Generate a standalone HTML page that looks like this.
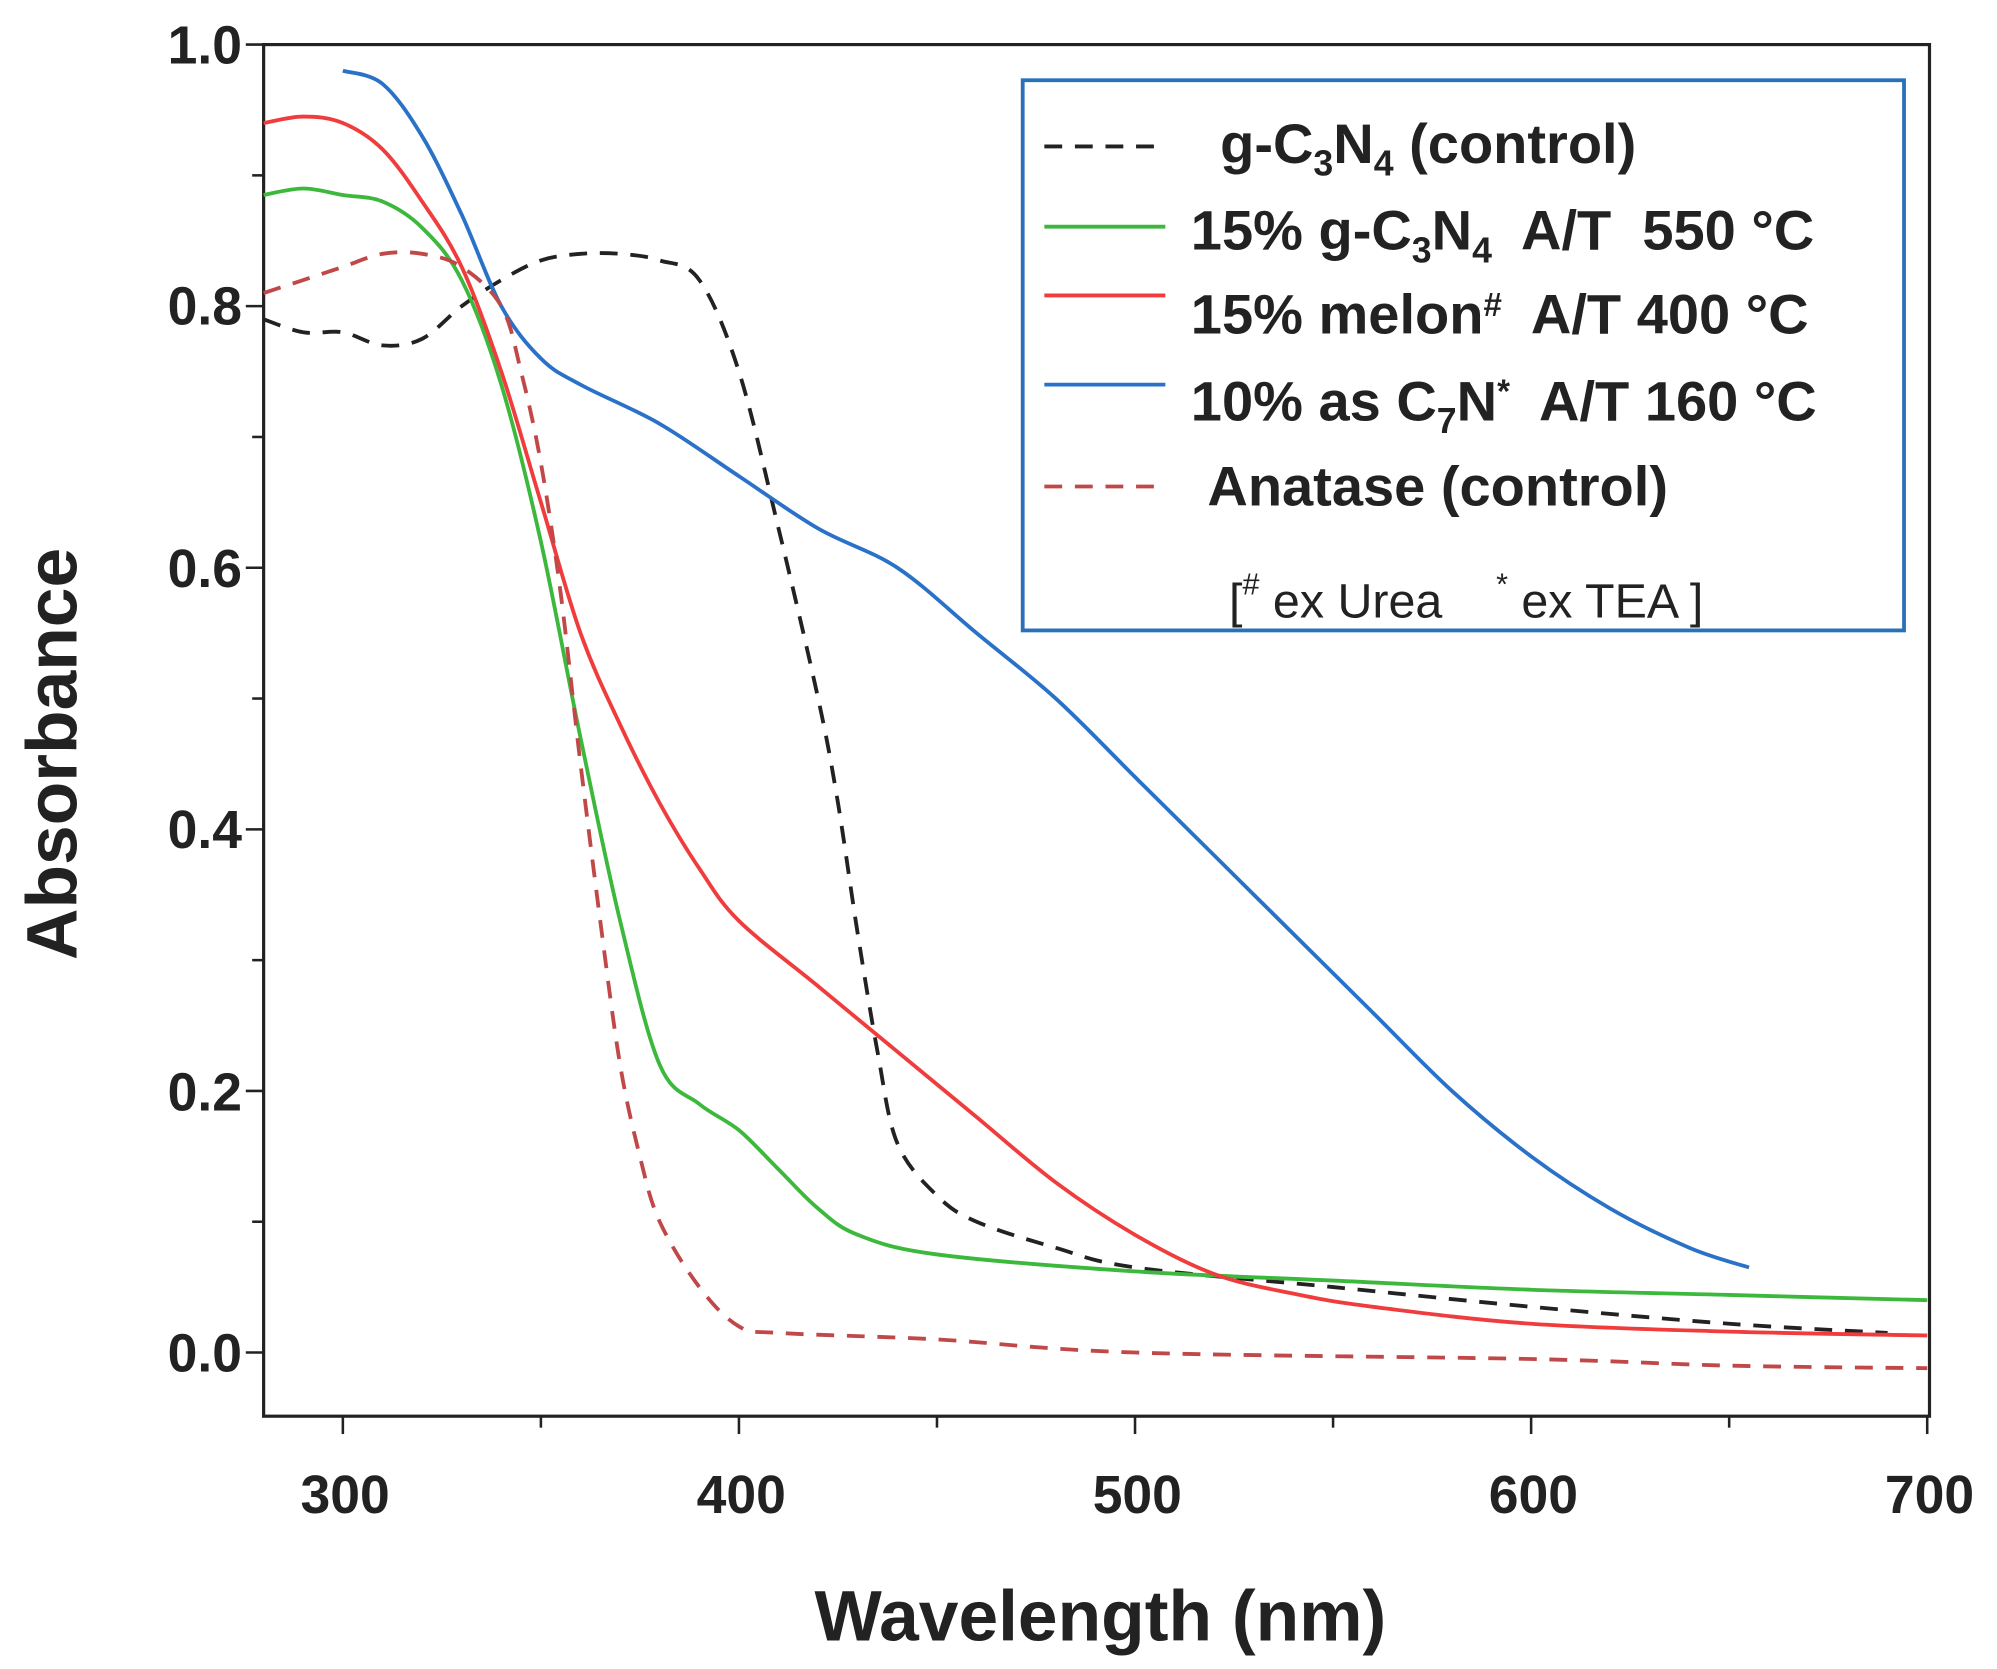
<!DOCTYPE html>
<html><head><meta charset="utf-8"><style>
html,body{margin:0;padding:0;background:#fff}
svg{display:block}
text{font-family:"Liberation Sans",sans-serif}
</style></head><body>
<svg id="s" width="1997" height="1669" viewBox="0 0 1568 1310.5" preserveAspectRatio="none">
<rect x="207" y="35" width="1308" height="1077" fill="none" stroke="#222" stroke-width="2.5"/>
<g id="ticks" stroke="#222" stroke-width="2"></g>
<g font-size="42" font-weight="bold" fill="#222" text-anchor="middle">
<text x="271" y="1188">300</text><text x="582" y="1188">400</text><text x="893" y="1188">500</text><text x="1204" y="1188">600</text><text x="1515" y="1188">700</text>
</g>
<g font-size="42" font-weight="bold" fill="#222" text-anchor="end">
<text x="190" y="1077">0.0</text><text x="190" y="872">0.2</text><text x="190" y="666">0.4</text><text x="190" y="461">0.6</text><text x="190" y="255">0.8</text><text x="190" y="50">1.0</text>
</g>
<text x="864" y="1288" font-size="56" font-weight="bold" fill="#222" text-anchor="middle">Wavelength (nm)</text>
<text transform="translate(60,592) rotate(-90)" font-size="56" font-weight="bold" fill="#222" text-anchor="middle">Absorbance</text>
<g id="curves" fill="none" stroke-width="3"></g>
<rect x="803" y="63" width="692" height="432" fill="#fff" stroke="#2a72b8" stroke-width="3"/>
<line x1="820" y1="115" x2="915" y2="115" stroke="#222" stroke-width="3" stroke-dasharray="14,10"/>
<line x1="820" y1="178" x2="915" y2="178" stroke="#3cb83c" stroke-width="3"/>
<line x1="820" y1="232" x2="915" y2="232" stroke="#f03c3c" stroke-width="3"/>
<line x1="820" y1="302" x2="915" y2="302" stroke="#2a72c8" stroke-width="3"/>
<line x1="820" y1="382" x2="915" y2="382" stroke="#c04848" stroke-width="3" stroke-dasharray="14,10"/>
<g font-size="44" font-weight="bold" fill="#222">
<text x="958" y="128">g-C<tspan font-size="28" dy="10">3</tspan><tspan dy="-10">N</tspan><tspan font-size="28" dy="10">4</tspan><tspan dy="-10"> (control)</tspan></text>
<text x="935" y="196" xml:space="preserve">15% g-C<tspan font-size="28" dy="10">3</tspan><tspan dy="-10">N</tspan><tspan font-size="28" dy="10">4</tspan><tspan dy="-10">  A/T  550 °C</tspan></text>
<text x="935" y="262" xml:space="preserve">15% melon<tspan font-size="26" dy="-14">#</tspan><tspan dy="14">  A/T 400 °C</tspan></text>
<text x="935" y="330" xml:space="preserve">10% as C<tspan font-size="28" dy="10">7</tspan><tspan dy="-10">N</tspan><tspan font-size="26" dy="-14">*</tspan><tspan dy="14">  A/T 160 °C</tspan></text>
<text x="948" y="397">Anatase (control)</text>
</g>
<text x="965" y="485" font-size="38" fill="#222" xml:space="preserve">[<tspan font-size="24" dy="-18">#</tspan><tspan dy="18"> ex Urea    </tspan><tspan font-size="24" dy="-18">*</tspan><tspan dy="18"> ex TEA ]</tspan></text>
</svg>
<script>
var X=n=>207+(n-280)*3.11, Y=a=>1062-a*1027;
var t=document.getElementById('ticks'),h='';
for(var n=300;n<=700;n+=50){var L=(n%100==0)?14:9;h+='<line x1="'+X(n)+'" y1="1112" x2="'+X(n)+'" y2="'+(1112+L)+'"/>';}
for(var a=0;a<=1.001;a+=0.1){var L=(Math.round(a*10)%2==0)?14:9;h+='<line x1="207" y1="'+Y(a)+'" x2="'+(207-L)+'" y2="'+Y(a)+'"/>';}
t.innerHTML=h;
var S=[
["#222","14,10",[[280,0.79],[290,0.78],[300,0.78],[310,0.77],[320,0.775],[330,0.80],[340,0.82],[350,0.835],[360,0.84],[370,0.84],[380,0.835],[390,0.82],[400,0.75],[410,0.63],[420,0.50],[425,0.42],[430,0.32],[435,0.23],[440,0.16],[450,0.12],[460,0.10],[480,0.08],[500,0.065],[550,0.05],[600,0.035],[650,0.022],[690,0.015]]],
["#3cb83c","",[[280,0.885],[290,0.89],[300,0.885],[310,0.88],[320,0.86],[330,0.82],[340,0.74],[350,0.62],[360,0.47],[370,0.33],[380,0.22],[390,0.19],[400,0.17],[410,0.14],[420,0.11],[430,0.09],[450,0.075],[500,0.062],[550,0.055],[600,0.048],[650,0.044],[700,0.04]]],
["#f03c3c","",[[280,0.94],[290,0.945],[300,0.94],[310,0.92],[320,0.88],[330,0.83],[340,0.75],[350,0.65],[360,0.55],[370,0.48],[380,0.42],[390,0.37],[400,0.33],[420,0.28],[440,0.23],[460,0.18],[480,0.13],[500,0.09],[520,0.06],[540,0.045],[560,0.035],[600,0.022],[650,0.016],[700,0.013]]],
["#2a72c8","",[[300,0.98],[310,0.97],[320,0.93],[330,0.87],[340,0.80],[350,0.76],[360,0.74],[380,0.71],[400,0.67],[420,0.63],[440,0.60],[460,0.55],[480,0.50],[500,0.44],[520,0.38],[540,0.32],[560,0.26],[580,0.20],[600,0.15],[620,0.11],[640,0.08],[655,0.065]]],
["#c04848","14,10",[[280,0.81],[290,0.82],[300,0.83],[310,0.84],[320,0.84],[330,0.83],[340,0.80],[345,0.75],[350,0.68],[355,0.58],[360,0.45],[365,0.33],[370,0.22],[375,0.15],[380,0.10],[390,0.05],[400,0.02],[410,0.015],[450,0.01],[500,0.0],[600,-0.005],[650,-0.01],[700,-0.012]]]];
function path(pts){var p=pts.map(q=>[X(q[0]),Y(q[1])]);var d='M'+p[0][0].toFixed(1)+','+p[0][1].toFixed(1);
for(var i=0;i<p.length-1;i++){var p0=p[Math.max(0,i-1)],p1=p[i],p2=p[i+1],p3=p[Math.min(p.length-1,i+2)];
var c1=[p1[0]+(p2[0]-p0[0])/6,p1[1]+(p2[1]-p0[1])/6],c2=[p2[0]-(p3[0]-p1[0])/6,p2[1]-(p3[1]-p1[1])/6];
d+=' C'+c1.map(v=>v.toFixed(1))+' '+c2.map(v=>v.toFixed(1))+' '+p2.map(v=>v.toFixed(1));}return d;}
var c='';S.forEach(s=>{c+='<path stroke="'+s[0]+'" '+(s[1]?'stroke-dasharray="'+s[1]+'" ':'')+'d="'+path(s[2])+'"/>';});
document.getElementById('curves').innerHTML=c;
</script>
</body></html>
